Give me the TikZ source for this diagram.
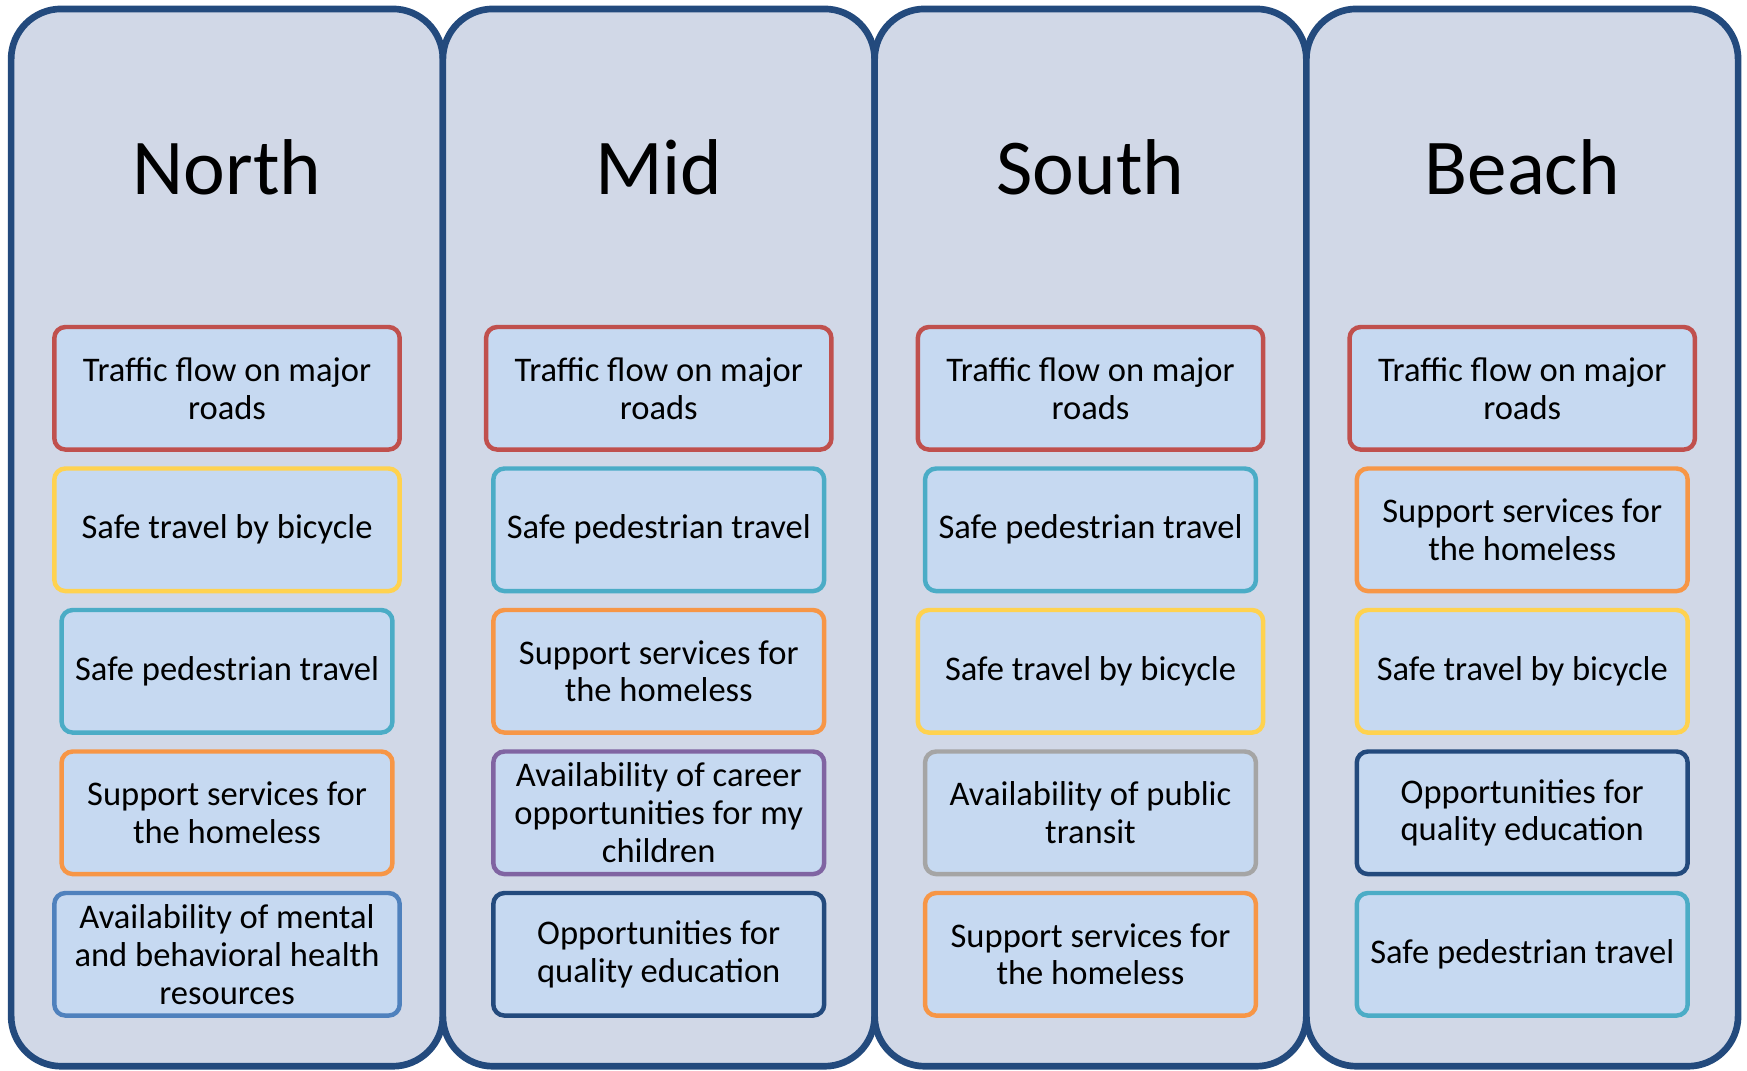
\documentclass[tikz,border=0pt]{standalone}
\usepackage{fontspec}
\setmainfont{Carlito}
\usetikzlibrary{positioning}

\definecolor{colfill}{HTML}{D1D8E7}
\definecolor{navy}{HTML}{234A7D}
\definecolor{boxfill}{HTML}{C6D9F1}
\definecolor{cred}{HTML}{C0504D}
\definecolor{cyellow}{HTML}{FFD24F}
\definecolor{cteal}{HTML}{4BACC6}
\definecolor{corange}{HTML}{F79646}
\definecolor{cblue}{HTML}{4F81BD}
\definecolor{cpurple}{HTML}{8064A2}
\definecolor{cgray}{HTML}{A5A5A5}

\begin{document}
\begin{tikzpicture}[
    x=1pt, y=-1pt,
    node distance=17pt,
    region/.style={draw=navy, fill=colfill, line width=6pt, rounded corners=45pt, minimum width=387.5pt, minimum height=949pt, inner sep=0pt},
    heading/.style={font=\fontsize{71}{85}\selectfont, inner sep=0pt, anchor=base},
    topic/.style={draw=#1, fill=boxfill, line width=4pt, rounded corners=10pt, align=center, minimum width=297pt, minimum height=110pt, inner sep=0pt, outer sep=0pt, font=\fontsize{31}{34}\selectfont},
    wide/.style={minimum width=310pt}
  ]
    \useasboundingbox (0,0) rectangle (1568,961);

    % columns
    \node[region] (north) at (203.75,482.5) {};
    \node[region] (mid) at (591.25,482.5) {};
    \node[region] (south) at (978.75,482.5) {};
    \node[region] (beach) at (1366.25,482.5) {};

    \node[heading] (northtitle) at (203.75,175) {North};
    \node[heading] (midtitle) at (591.25,175) {Mid};
    \node[heading] (southtitle) at (978.75,175) {South};
    \node[heading] (beachtitle) at (1366.25,175) {Beach};

    % North
    \node[topic=cred, wide] (n1) at (203.75,348.5) {Traffic flow on major\\roads};
    \node[topic=cyellow, wide, below=of n1] (n2) {Safe travel by bicycle};
    \node[topic=cteal, below=of n2] (n3) {Safe pedestrian travel};
    \node[topic=corange, below=of n3] (n4) {Support services for\\the homeless};
    \node[topic=cblue, wide, below=of n4] (n5) {Availability of mental\\and behavioral health\\resources};

    % Mid
    \node[topic=cred, wide] (m1) at (591.25,348.5) {Traffic flow on major\\roads};
    \node[topic=cteal, below=of m1] (m2) {Safe pedestrian travel};
    \node[topic=corange, below=of m2] (m3) {Support services for\\the homeless};
    \node[topic=cpurple, below=of m3] (m4) {Availability of career\\opportunities for my\\children};
    \node[topic=navy, below=of m4] (m5) {Opportunities for\\quality education};

    % South
    \node[topic=cred, wide] (s1) at (978.75,348.5) {Traffic flow on major\\roads};
    \node[topic=cteal, below=of s1] (s2) {Safe pedestrian travel};
    \node[topic=cyellow, wide, below=of s2] (s3) {Safe travel by bicycle};
    \node[topic=cgray, below=of s3] (s4) {Availability of public\\transit};
    \node[topic=corange, below=of s4] (s5) {Support services for\\the homeless};

    % Beach
    \node[topic=cred, wide] (b1) at (1366.25,348.5) {Traffic flow on major\\roads};
    \node[topic=corange, below=of b1] (b2) {Support services for\\the homeless};
    \node[topic=cyellow, below=of b2] (b3) {Safe travel by bicycle};
    \node[topic=navy, below=of b3] (b4) {Opportunities for\\quality education};
    \node[topic=cteal, below=of b4] (b5) {Safe pedestrian travel};
  \end{tikzpicture}
\end{document}
